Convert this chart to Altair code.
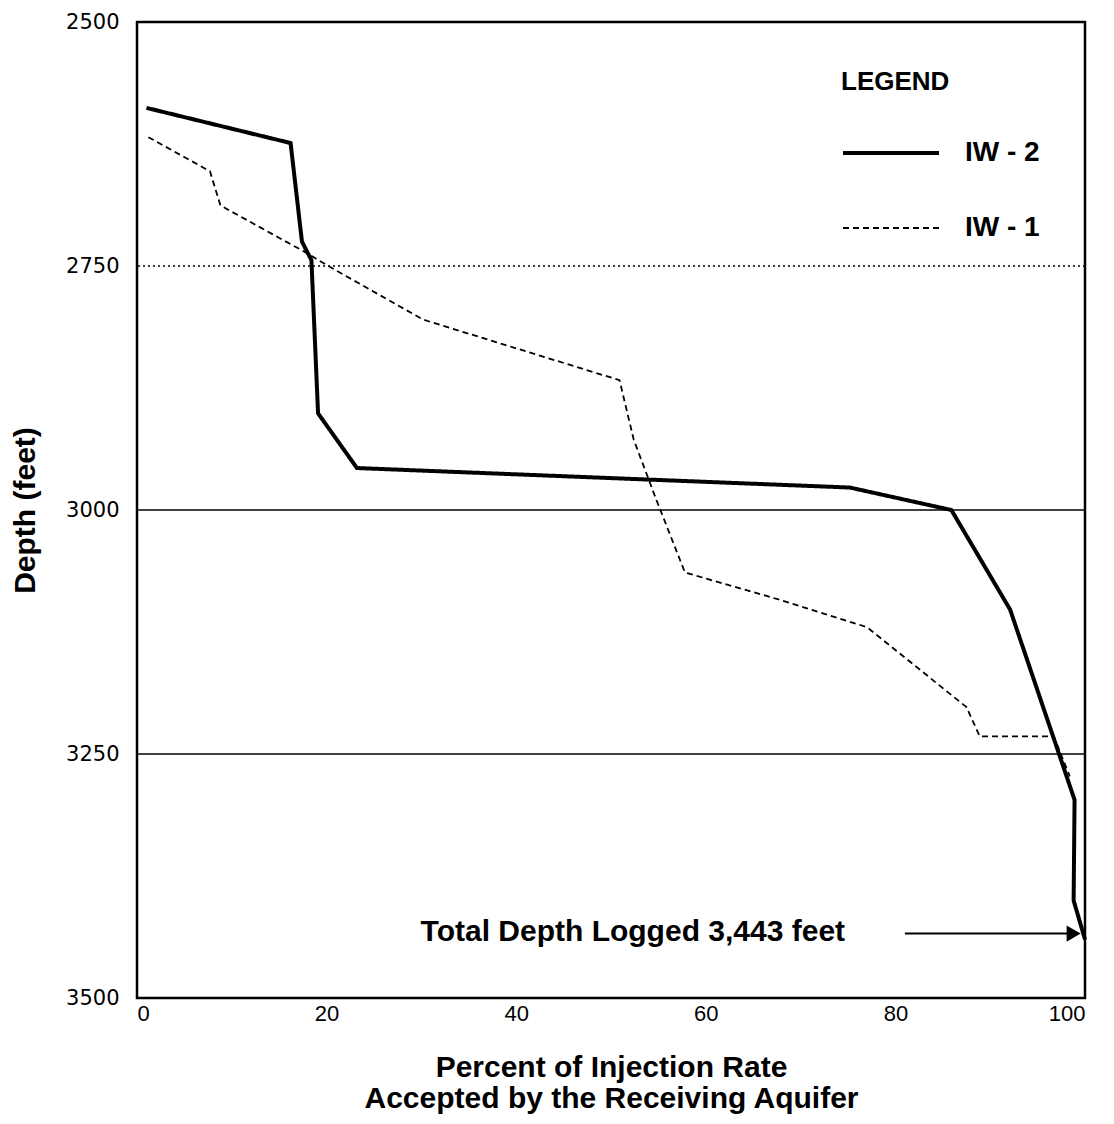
import altair as alt
import pandas as pd

# IW-2 (solid) profile
iw2_pct = [1.0, 16.2, 17.4, 18.4, 19.1, 23.2, 75.2, 85.9, 92.1, 98.9, 98.8, 100.0]
iw2_depth = [2588, 2624, 2725, 2744, 2901, 2957, 2977, 3000, 3102, 3297, 3400, 3440]
# IW-1 (dashed) profile
iw1_pct = [1.2, 7.7, 8.8, 17.4, 20.9, 30.2, 50.9, 52.4, 54.8, 57.8, 67.8, 77.0, 87.5, 88.9, 96.7, 97.0, 98.4]
iw1_depth = [2618, 2653, 2688, 2734, 2754, 2805, 2867, 2928, 2990, 3064, 3092, 3120, 3202, 3232, 3232, 3239, 3273]

series_names = ["IW - 2", "IW - 1"]
dotted_grid = [2750]
solid_grid = [3000, 3250]
y_ticks = [2500, 2750, 3000, 3250, 3500]
x_ticks = [0, 20, 40, 60, 80, 100]

note_text = ["Total Depth Logged 3,443 feet"]
note_pct = [52.3]
note_depth = [3432]
arrow_start = [81.0]
arrow_end = [98.8]
arrow_depth = [3434]

rows = []
for i, (p, d) in enumerate(zip(iw2_pct, iw2_depth)):
    rows.append({"pct": p, "depth": d, "well": "IW - 2", "order": i})
for i, (p, d) in enumerate(zip(iw1_pct, iw1_depth)):
    rows.append({"pct": p, "depth": d, "well": "IW - 1", "order": i})
df = pd.DataFrame(rows)

FONT = "Liberation Sans"

xscale = alt.Scale(domain=[0, 100], nice=False, zero=False)
yscale = alt.Scale(domain=[2500, 3500], nice=False, zero=False, reverse=True)

grid_dot = alt.Chart(pd.DataFrame({"depth": dotted_grid})).mark_rule(
    color="black", strokeWidth=1.5, strokeDash=[2, 3]).encode(y=alt.Y("depth:Q", scale=yscale))
grid_solid = alt.Chart(pd.DataFrame({"depth": solid_grid})).mark_rule(
    color="black", strokeWidth=1.6).encode(y=alt.Y("depth:Q", scale=yscale))

lines = alt.Chart(df).mark_line(color="black", strokeJoin="miter").encode(
    x=alt.X("pct:Q", scale=xscale,
            axis=alt.Axis(values=x_ticks, title=["Percent of Injection Rate", "Accepted by the Receiving Aquifer"],
                          ticks=False, grid=False, domain=False, labelPadding=5, format="d",
                          labelFont=FONT, labelFontSize=22, labelFontWeight="normal",
                          titlePadding=28, titleLineHeight=31)),
    y=alt.Y("depth:Q", scale=yscale,
            axis=alt.Axis(values=y_ticks, title="Depth (feet)", ticks=False, grid=False, domain=False,
                          labelFont="DejaVu Sans", labelFontSize=21, labelFontWeight="normal",
                          labelPadding=18, titlePadding=25, format="d")),
    order="order:Q",
    strokeDash=alt.StrokeDash("well:N", scale=alt.Scale(domain=series_names, range=[[1, 0], [6, 4]]),
                              title="LEGEND"),
    strokeWidth=alt.StrokeWidth("well:N", scale=alt.Scale(domain=series_names, range=[4, 1.8]),
                                title="LEGEND"),
)

note_df = pd.DataFrame({"text": note_text, "pct": note_pct, "depth": note_depth})
note = alt.Chart(note_df).mark_text(font=FONT, fontSize=30, fontWeight="bold", color="black", align="center",
                                    baseline="middle").encode(
    x=alt.X("pct:Q", scale=xscale), y=alt.Y("depth:Q", scale=yscale), text="text:N")

arrow_df = pd.DataFrame({"x1": arrow_start, "x2": arrow_end, "depth": arrow_depth})
arrow_line = alt.Chart(arrow_df).mark_rule(color="black", strokeWidth=2).encode(
    x=alt.X("x1:Q", scale=xscale), x2="x2:Q", y=alt.Y("depth:Q", scale=yscale))
arrow_head = alt.Chart(arrow_df).mark_point(shape="triangle-right", filled=True, color="black", size=260,
                                            opacity=1).encode(
    x=alt.X("x2:Q", scale=xscale), y=alt.Y("depth:Q", scale=yscale))

chart = alt.layer(grid_dot, grid_solid, lines, note, arrow_line, arrow_head).properties(
    width=948, height=976,
    autosize=alt.AutoSizeParams(type="none"),
    padding={"left": 137, "top": 22, "right": 29, "bottom": 126},
).configure_view(
    stroke="black", strokeWidth=2.5
).configure_axis(
    labelColor="black",
    titleFont=FONT, titleFontSize=30, titleFontWeight="bold", titleColor="black",
).configure_legend(
    orient="none", legendX=704, legendY=47,
    titleFont=FONT, titleFontSize=26, titleFontWeight="bold", titleColor="black", titlePadding=8,
    labelFont=FONT, labelFontSize=28, labelFontWeight="bold", labelColor="black", labelOffset=24,
    symbolType="stroke", symbolSize=9216, symbolStrokeColor="black", rowPadding=12,
)

chart.save("out.html", embed_options={"renderer": "svg", "actions": False})
